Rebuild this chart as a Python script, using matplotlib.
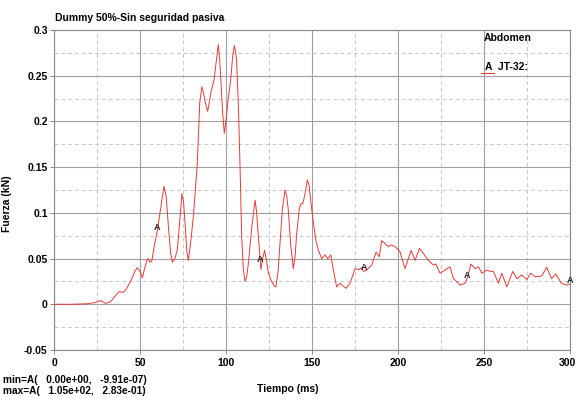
import matplotlib
matplotlib.use("Agg")
import matplotlib.pyplot as plt
import matplotlib.transforms as mtransforms
import numpy as np

plt.rcParams['font.family'] = ['Liberation Sans', 'DejaVu Sans']

# Abdomen force, channel JT-32 (time in ms, force in kN)
time_ms = [0, 10, 19, 24, 27, 30, 33, 36, 38, 39.5, 41, 43, 45, 47, 48.4, 50, 51.4, 52.5, 54,
           54.8, 55.8, 56.8, 58.5, 60, 62, 63.9, 65.2, 66.5, 67.8, 68.8, 70.3, 71.7, 73, 74.4,
           75.3, 76.2, 77.2, 78.1, 79.3, 81, 83.3, 84.7, 85.9, 86.8, 87.8, 89.3, 90.2, 91.1, 93,
           94.3, 95.5, 96.3, 97, 98, 99, 100.2, 101.4, 102.7, 103.8, 104.8, 105.6, 106.2, 107.2,
           108.1, 109.1, 110, 111, 112, 113, 115, 116.9, 117.8, 118.8, 120.3, 121.3, 122.4, 123.5,
           124.6, 126.5, 128, 129, 130.2, 131.4, 132.8, 134.3, 135.3, 136.2, 137.6, 139.1, 140.1,
           141.1, 142.6, 143.6, 144.6, 145.6, 147.3, 148.3, 149.2, 150.8, 152.2, 153.7, 155.6,
           156.6, 157.6, 159.1, 160.9, 162.4, 164.3, 166.3, 168, 169.8, 172.1, 175, 177.5, 178.6,
           180, 181.8, 184.7, 187.2, 189.1, 190.5, 192, 194.4, 196, 198.3, 201, 204, 207.6, 209.9,
           212.4, 215, 217.6, 220.5, 222, 224.4, 227.3, 230.2, 232.2, 234, 236, 239, 240.5, 242.3,
           244.8, 246.7, 248.7, 251.6, 253.5, 255.4, 258.3, 260.3, 263.2, 266.7, 269, 271.9, 274.8,
           277.1, 279.7, 283.5, 286.4, 289.2, 291.7, 295, 298, 300]
force_kn = [0, 0, 0.0005, 0.002, 0.004, 0.001, 0.003, 0.010, 0.014, 0.013, 0.014, 0.020, 0.027,
            0.036, 0.040, 0.036, 0.029, 0.038, 0.048, 0.050, 0.046, 0.047, 0.066, 0.080, 0.105,
            0.129, 0.118, 0.085, 0.056, 0.046, 0.050, 0.060, 0.090, 0.121, 0.112, 0.088, 0.058,
            0.048, 0.065, 0.096, 0.154, 0.220, 0.238, 0.232, 0.222, 0.211, 0.220, 0.231, 0.245,
            0.265, 0.284, 0.268, 0.245, 0.210, 0.187, 0.205, 0.227, 0.245, 0.270, 0.283, 0.276,
            0.264, 0.215, 0.154, 0.074, 0.040, 0.025, 0.030, 0.045, 0.085, 0.114, 0.100, 0.074,
            0.038, 0.050, 0.059, 0.048, 0.034, 0.025, 0.020, 0.019, 0.035, 0.067, 0.105, 0.125,
            0.118, 0.103, 0.065, 0.039, 0.052, 0.078, 0.105, 0.110, 0.110, 0.118, 0.136, 0.130,
            0.114, 0.089, 0.070, 0.059, 0.050, 0.052, 0.054, 0.050, 0.054, 0.0375, 0.019, 0.023,
            0.020, 0.0175, 0.023, 0.039, 0.038, 0.040, 0.036, 0.0375, 0.043, 0.057, 0.052, 0.0696,
            0.067, 0.063, 0.065, 0.063, 0.058, 0.039, 0.059, 0.048, 0.061, 0.055, 0.048, 0.043,
            0.044, 0.034, 0.0375, 0.041, 0.028, 0.025, 0.021, 0.023, 0.030, 0.044, 0.039, 0.041,
            0.034, 0.0375, 0.036, 0.036, 0.023, 0.034, 0.019, 0.036, 0.028, 0.032, 0.027, 0.034,
            0.030, 0.031, 0.0405, 0.028, 0.033, 0.023, 0.021, 0.022]

marker_times = [60, 120, 180, 240, 300]
x_ticks = [0, 50, 100, 150, 200, 250, 300]
y_ticks = [-0.05, 0, 0.05, 0.1, 0.15, 0.2, 0.25, 0.3]
y_tick_labels = ['-0.05', '0', '0.05', '0.1', '0.15', '0.2', '0.25', '0.3']

line_color = '#e8393a'

fig = plt.figure(figsize=(5.76, 4.0), dpi=100)
ax = fig.add_axes([0.09375, 0.125, 0.896, 0.80])

ax.plot(time_ms, force_kn, color=line_color, linewidth=0.7, zorder=3)

# channel markers along the curve
for t in marker_times:
    yv = np.interp(t, time_ms, force_kn)
    ax.text(t, yv + 0.004, 'A', ha='center', va='center', fontsize=6.5,
            fontweight='bold', color='#222222', zorder=4)

ax.set_xlim(0, 300)
ax.set_ylim(-0.05, 0.3)
ax.set_xticks(x_ticks)
ax.set_yticks(y_ticks)
ax.set_yticklabels(y_tick_labels)
ax.set_xticks(np.arange(25, 300, 50), minor=True)
ax.set_yticks(np.arange(-0.025, 0.3, 0.05), minor=True)

ax.grid(which='major', color='#a0a0a0', linewidth=0.8, linestyle='-')
ax.grid(which='minor', color='#c8c8c8', linewidth=0.7, linestyle=(0, (4, 3)))
ax.set_axisbelow(True)

for s in ax.spines.values():
    s.set_color('#888888')
    s.set_linewidth(0.8)

ax.tick_params(axis='both', which='major', labelsize=7.5, length=3, width=0.6,
               color='#777777')
ax.tick_params(axis='x', which='major', pad=3)
ax.tick_params(axis='y', which='major', pad=1.5)
ax.tick_params(axis='both', which='minor', length=0)
for lbl in ax.get_xticklabels() + ax.get_yticklabels():
    lbl.set_fontweight('bold')

# keep the last time label inside the figure edge
last = ax.get_xticklabels()[-1]
last.set_horizontalalignment('right')
last.set_transform(last.get_transform() +
                   mtransforms.ScaledTranslation(6 / 100, 0, fig.dpi_scale_trans))

ax.set_ylabel('Fuerza (kN)', fontsize=7.5, fontweight='bold')
ax.yaxis.set_label_coords(-0.081, 0.456)

fig.text(0.095, 0.955, 'Dummy 50%-Sin seguridad pasiva', fontsize=7.5,
         fontweight='bold', ha='left', va='center')
fig.text(0.50, 0.027, 'Tiempo (ms)', fontsize=7.5, fontweight='bold',
         ha='center', va='center')
fig.text(0.006, 0.050, 'min=A(   0.00e+00,   -9.91e-07)', fontsize=7.3,
         fontweight='bold', ha='left', va='center')
fig.text(0.006, 0.022, 'max=A(   1.05e+02,   2.83e-01)', fontsize=7.3,
         fontweight='bold', ha='left', va='center')

# legend block
ax.text(0.832, 0.975, 'Abdomen', transform=ax.transAxes, fontsize=7.5,
        ha='left', va='center', fontweight='bold')
ax.text(0.836, 0.884, 'A  JT-32:', transform=ax.transAxes, fontsize=7.5,
        ha='left', va='center', fontweight='bold')
ax.plot([0.828, 0.852], [0.866, 0.866], transform=ax.transAxes,
        color=line_color, linewidth=0.8)

fig.savefig('out.png', dpi=100, facecolor='white')
